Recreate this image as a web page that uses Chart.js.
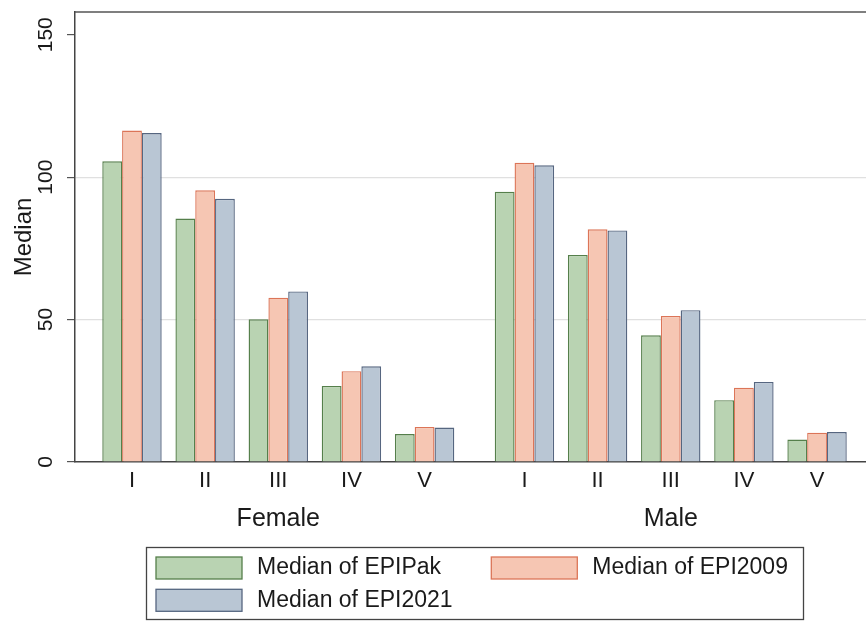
<!DOCTYPE html>
<html>
<head>
<meta charset="utf-8">
<script src="https://cdn.jsdelivr.net/npm/chart.js@4.4.1/dist/chart.umd.min.js"></script>
<style>
html,body{margin:0;padding:0;background:#fff;}
#wrap{width:866px;height:621px;position:relative;}
</style>
</head>
<body>
<div id="wrap"><canvas id="c" width="866" height="621"></canvas></div>
<script>
// ---- data ----
const groups = ['Female', 'Male'];
const categories = ['I', 'II', 'III', 'IV', 'V'];
const seriesNames = ['Median of EPIPak', 'Median of EPI2009', 'Median of EPI2021'];
const epiPakFemale  = [105.6, 85.5, 50.1, 26.7, 9.8];
const epi2009Female = [116.4, 95.4, 57.7, 31.9, 12.3];
const epi2021Female = [115.5, 92.4, 59.9, 33.6, 12.1];
const epiPakMale    = [94.9, 72.7, 44.5, 21.7, 7.9];
const epi2009Male   = [105.1, 81.7, 51.3, 26.1, 10.3];
const epi2021Male   = [104.2, 81.3, 53.3, 28.1, 10.5];
const yTicks = [0, 50, 100, 150];
const yMax = 158;

// ---- layout / style ----
const GROUP_STEP = 1.365;   // distance (in category units) from last bar group of one sex to first of next
const fills   = ['#b9d3b2', '#f6c6b3', '#b9c6d4'];
const borders = ['#557f4b', '#dc7558', '#566680'];
const FONT = '"Liberation Sans", Arial, Helvetica, sans-serif';
const TXT = '#1a1a1a';

function pos(g, i) { return g * (categories.length - 1 + GROUP_STEP) + i; }
const tickPositions = [];
groups.forEach((g, gi) => categories.forEach((c, ci) => tickPositions.push(pos(gi, ci))));
const groupCenters = groups.map((g, gi) => (pos(gi, 0) + pos(gi, categories.length - 1)) / 2);
const xMin = pos(0, 0) - 0.779;
const xMax = pos(groups.length - 1, categories.length - 1) + 0.669;

const seriesByGroup = [
  [epiPakFemale, epiPakMale],
  [epi2009Female, epi2009Male],
  [epi2021Female, epi2021Male]
];

const datasets = seriesNames.map((name, si) => {
  const pts = [];
  seriesByGroup[si].forEach((vals, gi) => vals.forEach((v, ci) => pts.push({x: pos(gi, ci), y: v})));
  return {
    label: name,
    data: pts,
    backgroundColor: fills[si],
    borderColor: borders[si],
    borderWidth: 1.4,
    xAxisID: 'x',
    yAxisID: 'y'
  };
});

Chart.defaults.font.family = FONT;
Chart.defaults.color = TXT;

const extras = {
  id: 'extras',
  afterDraw(chart) {
    const ctx = chart.ctx;
    const ca = chart.chartArea;
    const ys = chart.scales.y;
    ctx.save();
    // top frame line
    ctx.strokeStyle = '#555';
    ctx.lineWidth = 1.5;
    ctx.beginPath();
    ctx.moveTo(ca.left, ca.top);
    ctx.lineTo(ca.right, ca.top);
    ctx.stroke();
    // rotated y tick labels
    ctx.fillStyle = TXT;
    ctx.font = '21px ' + FONT;
    ctx.textAlign = 'center';
    ctx.textBaseline = 'middle';
    ys.ticks.forEach(t => {
      const y = ys.getPixelForValue(t.value);
      ctx.save();
      ctx.translate(46, y);
      ctx.rotate(-Math.PI / 2);
      ctx.fillText(String(t.value), 0, 0);
      ctx.restore();
    });
    // legend
    ctx.strokeStyle = '#444';
    ctx.lineWidth = 1.3;
    ctx.strokeRect(146.5, 547.5, 657, 72);
    ctx.font = '23px ' + FONT;
    ctx.textAlign = 'left';
    chart.data.datasets.forEach((ds, i) => {
      const col = i % 2, row = Math.floor(i / 2);
      const bx = 156 + col * 335.3;
      const by = 557 + row * 32.3;
      ctx.fillStyle = ds.backgroundColor;
      ctx.fillRect(bx, by, 86, 22);
      ctx.strokeStyle = ds.borderColor;
      ctx.lineWidth = 1.3;
      ctx.strokeRect(bx, by, 86, 22);
      ctx.fillStyle = TXT;
      ctx.fillText(ds.label, bx + 101, by + 11);
    });
    ctx.restore();
  }
};

new Chart(document.getElementById('c'), {
  type: 'bar',
  data: { datasets },
  options: {
    responsive: false,
    animation: false,
    devicePixelRatio: 1,
    layout: { padding: { left: 0, right: 0, top: 12, bottom: 87 } },
    categoryPercentage: 0.812,
    barPercentage: 1.0,
    plugins: { legend: { display: false }, tooltip: { enabled: false } },
    scales: {
      x: {
        type: 'linear',
        position: 'bottom',
        offset: false,
        weight: 0,
        min: xMin,
        max: xMax,
        afterBuildTicks: s => { s.ticks = tickPositions.map(v => ({value: v})); },
        afterFit: s => { s.height = 32; },
        ticks: {
          autoSkip: false,
          maxRotation: 0,
          padding: 5.6,
          font: { size: 22 },
          color: TXT,
          callback: (v, i) => categories[i % categories.length]
        },
        grid: { display: false, drawTicks: false, offset: false },
        border: { display: true, color: '#444', width: 1.5 }
      },
      x2: {
        type: 'linear',
        axis: 'x',
        position: 'bottom',
        offset: false,
        weight: 1,
        min: xMin,
        max: xMax,
        afterBuildTicks: s => { s.ticks = groupCenters.map(v => ({value: v})); },
        afterFit: s => { s.height = 40; },
        ticks: {
          autoSkip: false,
          maxRotation: 0,
          padding: 10.2,
          font: { size: 25 },
          color: TXT,
          callback: (v, i) => groups[i]
        },
        grid: { display: false, drawTicks: false, offset: false },
        border: { display: false }
      },
      y: {
        type: 'linear',
        position: 'left',
        min: 0,
        max: yMax,
        afterBuildTicks: s => { s.ticks = yTicks.map(v => ({value: v})); },
        afterFit: s => { s.width = 75; },
        ticks: { display: false },
        grid: {
          drawTicks: true,
          tickLength: 8,
          tickColor: '#555',
          tickWidth: 1.2,
          lineWidth: 1.2,
          color: c => (c.tick && (c.tick.value === 50 || c.tick.value === 100)) ? '#e0e0e0' : 'rgba(0,0,0,0)'
        },
        border: { display: true, color: '#444', width: 1.5 },
        title: {
          display: true,
          text: 'Median',
          font: { size: 24 },
          color: TXT,
          padding: { top: 9.6, bottom: 28.6 }
        }
      }
    }
  },
  plugins: [extras]
});
</script>
</body>
</html>
